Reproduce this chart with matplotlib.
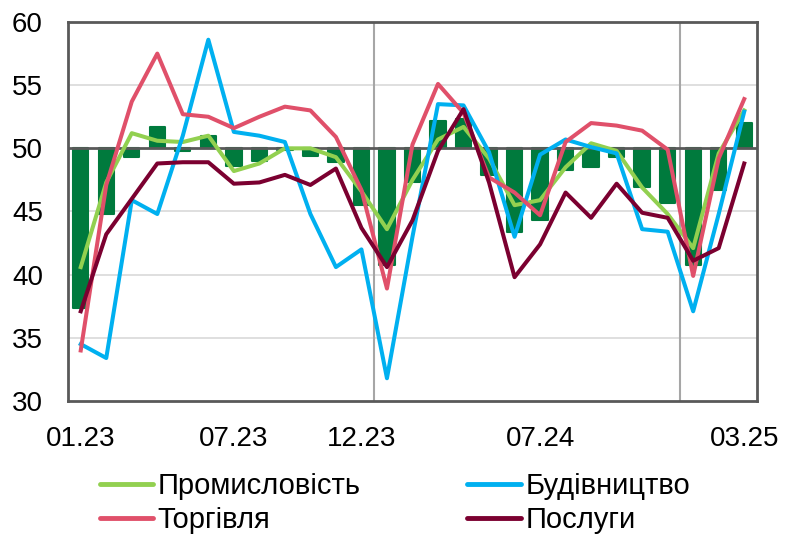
import numpy as np
import matplotlib.pyplot as plt

plt.rcParams['font.family'] = ['Liberation Sans', 'DejaVu Sans']

# months 01.23 .. 03.25
months = ['01.23', '02.23', '03.23', '04.23', '05.23', '06.23', '07.23', '08.23', '09.23',
          '10.23', '11.23', '12.23', '01.24', '02.24', '03.24', '04.24', '05.24', '06.24',
          '07.24', '08.24', '09.24', '10.24', '11.24', '12.24', '01.25', '02.25', '03.25']
shown_labels = ['01.23', '07.23', '12.23', '07.24', '03.25']

# composite index (bars, drawn from 50)
composite = [37.4, 44.8, 49.3, 51.7, 49.8, 51.0, 48.6, 49.0, 49.9, 49.4, 48.9, 45.5, 40.8, 47.3,
             52.2, 52.3, 47.9, 43.4, 44.3, 48.3, 48.5, 49.3, 46.9, 45.7, 40.8, 46.7, 52.0]
industry = [40.6, 47.3, 51.2, 50.6, 50.5, 51.0, 48.2, 48.8, 50.0, 50.0, 49.3, 46.6, 43.6, 47.5,
            50.7, 51.7, 49.2, 45.5, 45.9, 48.5, 50.4, 49.8, 46.9, 44.8, 42.1, 49.6, 53.0]
construction = [34.5, 33.4, 45.9, 44.8, 51.0, 58.6, 51.3, 51.0, 50.5, 44.8, 40.6, 42.0, 31.8, 43.0,
                53.5, 53.4, 49.7, 43.0, 49.5, 50.7, 50.1, 49.6, 43.6, 43.4, 37.1, 44.8, 52.9]
trade = [34.0, 47.1, 53.7, 57.5, 52.7, 52.5, 51.6, 52.5, 53.3, 53.0, 50.9, 46.7, 38.9, 50.3,
         55.1, 52.8, 47.7, 46.5, 44.7, 50.5, 52.0, 51.8, 51.4, 49.9, 39.9, 49.2, 53.9]
services = [37.1, 43.2, 46.0, 48.8, 48.9, 48.9, 47.2, 47.3, 47.9, 47.1, 48.4, 43.7, 40.6, 44.3,
            49.8, 53.1, 47.3, 39.8, 42.4, 46.5, 44.5, 47.2, 44.9, 44.5, 41.1, 42.1, 48.8]

x = np.arange(len(months))
base = 50

fig = plt.figure(figsize=(7.85, 5.37), dpi=100)
ax = fig.add_axes([0.0866, 0.2533, 0.8777, 0.7057])

# gridlines
for g in [35, 40, 45, 55]:
    ax.axhline(g, color='#D9D9D9', lw=1.2, zorder=0)
# year separators
for v in [11.5, 23.5]:
    ax.axvline(v, color='#A6A6A6', lw=1.5, zorder=0)

comp = np.array(composite)
ax.bar(x, comp - base, bottom=base, width=0.6, color='#007A3D', edgecolor='#007A3D',
       lw=1.5, joinstyle='round', zorder=2)
ax.axhline(base, color='#595959', lw=2, zorder=3)

l1, = ax.plot(x, industry, color='#92D050', lw=2.9, label='Промисловість', zorder=4)
l2, = ax.plot(x, construction, color='#00B0F0', lw=2.9, label='Будівництво', zorder=4)
l3, = ax.plot(x, trade, color='#E0506A', lw=2.9, label='Торгівля', zorder=4)
l4, = ax.plot(x, services, color='#7B0030', lw=2.9, label='Послуги', zorder=4)

ax.set_xlim(-0.5, len(months) - 0.5)
ax.set_ylim(30, 60)
ax.set_yticks([30, 35, 40, 45, 50, 55, 60])
ax.set_xticks([months.index(m) for m in shown_labels])
ax.set_xticklabels(shown_labels)
ax.tick_params(axis='both', length=0, pad=18, labelsize=20)

for s in ax.spines.values():
    s.set_color('#595959')
    s.set_linewidth(2)

# column-major fill: rows are (Промисловість, Будівництво), (Торгівля, Послуги)
leg = fig.legend([l1, l3, l2, l4], [l.get_label() for l in (l1, l3, l2, l4)],
                 loc='upper left', bbox_to_anchor=(0.127, 0.121), ncol=2, frameon=False,
                 fontsize=21, handlelength=1.82, handletextpad=0.17, columnspacing=3.66,
                 labelspacing=0.22, borderaxespad=0, borderpad=0)
for h in leg.get_lines():
    h.set_linewidth(3.5)
    h.set_solid_capstyle('round')

fig.savefig('out.png', dpi=100)
